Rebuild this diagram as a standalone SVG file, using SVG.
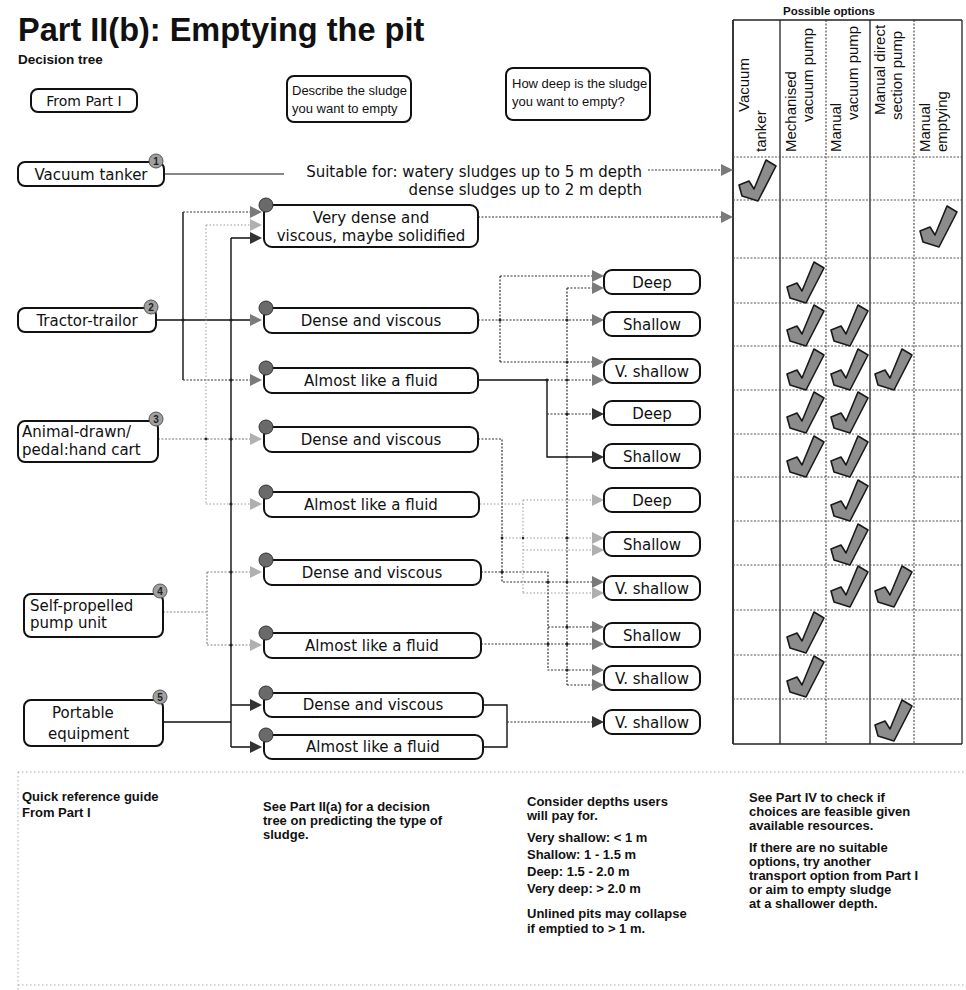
<svg xmlns="http://www.w3.org/2000/svg" xmlns:xlink="http://www.w3.org/1999/xlink" width="966" height="990" viewBox="0 0 966 990">
<style>
text{font-family:"Liberation Sans",Arial,sans-serif;fill:#111}
.title{font-size:32.5px;font-weight:bold}
.hb{font-size:13.5px;font-weight:bold}
.nl{font-family:"DejaVu Sans","Liberation Sans",sans-serif;font-size:15px}
.ql{font-size:13px}
.th{font-size:15px}
.box{fill:#fff;stroke:#111;stroke-width:2}
.pin{fill:#6a6a6a;stroke:#333;stroke-width:1}
.badge{fill:#a0a0a0;stroke:#555;stroke-width:1}
.bn{font-size:10px;font-weight:bold;fill:#222;text-anchor:middle}
.sol{fill:none;stroke:#111;stroke-width:1.4}
.dot{fill:none;stroke:#333;stroke-width:1.2;stroke-dasharray:2 1.5}
.fnt{fill:none;stroke:#999;stroke-width:1;stroke-dasharray:1.5 2}
.dk{fill:#333}
.md{fill:#7a7a7a}
.lt{fill:#b0b0b0}
.chk{fill:#8c8c8c;stroke:#1a1a1a;stroke-width:1.6;stroke-linejoin:round}
.tv{stroke:#222;stroke-width:1.3}
.tvd{stroke:#444;stroke-width:1.1;stroke-dasharray:2 1.5}
.thz{stroke:#555;stroke-width:1;stroke-dasharray:2 1.5}
.jd{fill:#222}
.bt{font-size:13px;font-weight:bold}
.sep{stroke:#aaa;stroke-width:1;stroke-dasharray:1.5 2.5;fill:none}
</style>
<defs>
<path id="ah" d="M-12,-6 L0,0 L-12,6 Z"/>
<path id="ck" d="M-18,5 L-8,1 L-3,9 L9,-20 L19,-14 L1,21 L-15,16 Z"/>
</defs>

<text class="title" x="18" y="41">Part II(b): Emptying the pit</text>
<text class="hb" x="18" y="64">Decision tree</text>

<g id="from-part-i"><rect class="box" x="31" y="89" width="106" height="23" rx="7"/><text class="nl" x="84" y="106" text-anchor="middle" style="font-size:14px">From Part I</text></g>
<g id="describe-sludge"><rect class="box" x="287" y="76" width="124" height="46" rx="7"/><text class="ql" x="292" y="95">Describe the sludge</text><text class="ql" x="292" y="113">you want to empty</text></g>
<g id="how-deep"><rect class="box" x="506" y="68" width="144" height="52" rx="7"/><text class="ql" x="512" y="88">How deep is the sludge</text><text class="ql" x="512" y="106">you want to empty?</text></g>

<text class="hb" x="783" y="15" style="font-size:11.5px">Possible options</text>

<!-- table -->
<g id="options-table">
<g fill="none">
<line class="tv" x1="733" y1="20" x2="733" y2="744" style="stroke-width:1.8"/>
<line class="tv" x1="780" y1="20" x2="780" y2="744"/>
<line class="tvd" x1="826" y1="20" x2="826" y2="744"/>
<line class="tv" x1="870" y1="20" x2="870" y2="744"/>
<line class="tvd" x1="914" y1="20" x2="914" y2="744"/>
<line class="tv" x1="962" y1="20" x2="962" y2="744"/>
<line class="tv" x1="733" y1="20" x2="962" y2="20"/>
<line class="thz" x1="733" y1="157" x2="962" y2="157"/>
<line class="thz" x1="733" y1="200" x2="962" y2="200"/>
<line class="thz" x1="733" y1="258" x2="962" y2="258"/>
<line class="thz" x1="733" y1="303" x2="962" y2="303"/>
<line class="thz" x1="733" y1="346" x2="962" y2="346"/>
<line class="thz" x1="733" y1="390" x2="962" y2="390"/>
<line class="thz" x1="733" y1="434" x2="962" y2="434"/>
<line class="thz" x1="733" y1="477" x2="962" y2="477"/>
<line class="thz" x1="733" y1="521" x2="962" y2="521"/>
<line class="thz" x1="733" y1="565" x2="962" y2="565"/>
<line class="thz" x1="733" y1="610" x2="962" y2="610"/>
<line class="thz" x1="733" y1="655" x2="962" y2="655"/>
<line class="thz" x1="733" y1="699" x2="962" y2="699"/>
<line class="tv" x1="733" y1="744" x2="962" y2="744"/>
</g>
<text class="th" transform="translate(749,112) rotate(-90)">Vacuum</text>
<text class="th" transform="translate(766,152) rotate(-90)">tanker</text>
<text class="th" transform="translate(796,152) rotate(-90)">Mechanised</text>
<text class="th" transform="translate(813,122) rotate(-90)">vacuum pump</text>
<text class="th" transform="translate(841,152) rotate(-90)">Manual</text>
<text class="th" transform="translate(858,120) rotate(-90)">vacuum pump</text>
<text class="th" transform="translate(885,115) rotate(-90)">Manual direct</text>
<text class="th" transform="translate(902,120) rotate(-90)">section pump</text>
<text class="th" transform="translate(930,152) rotate(-90)">Manual</text>
<text class="th" transform="translate(947,152) rotate(-90)">emptying</text>
<g class="chk">
<use xlink:href="#ck" x="757" y="180"/>
<use xlink:href="#ck" x="938" y="226"/>
<use xlink:href="#ck" x="805" y="282"/>
<use xlink:href="#ck" x="805" y="325"/><use xlink:href="#ck" x="849" y="325"/>
<use xlink:href="#ck" x="805" y="369"/><use xlink:href="#ck" x="849" y="369"/><use xlink:href="#ck" x="893" y="369"/>
<use xlink:href="#ck" x="805" y="412"/><use xlink:href="#ck" x="849" y="412"/>
<use xlink:href="#ck" x="805" y="456"/><use xlink:href="#ck" x="849" y="456"/>
<use xlink:href="#ck" x="849" y="500"/>
<use xlink:href="#ck" x="849" y="544"/>
<use xlink:href="#ck" x="849" y="586"/><use xlink:href="#ck" x="893" y="586"/>
<use xlink:href="#ck" x="805" y="632"/>
<use xlink:href="#ck" x="805" y="676"/>
<use xlink:href="#ck" x="893" y="720"/>
</g>
</g>

<!-- connectors -->
<g id="connectors">
<path class="sol" d="M165,174 H284" style="stroke-width:1.2"/>
<path class="dot" d="M648,170 H722"/>
<path class="dot" d="M478,217 H722"/>
<path class="sol" d="M156,320 H251"/>
<path class="sol" d="M183,212 V380"/>
<path class="dot" d="M183,212 H251 M183,380 H251"/>
<path class="dot" d="M158,439 H251" style="stroke:#777"/>
<path class="fnt" d="M206,225 V504 M206,225 H251 M206,504 H251"/>
<path class="dot" d="M163,612 H207 M207,572 V645 M207,572 H251 M207,645 H251" style="stroke:#888"/>
<path class="sol" d="M163,722 H231 M231,238 V747 M231,238 H251 M231,705 H251 M231,747 H251"/>
<path class="dot" d="M478,320 H592 M500,276 V362 M500,276 H592 M500,362 H592"/>
<path class="sol" d="M478,380 H547 V457 H592"/>
<path class="dot" d="M547,380 H592 M547,414 H592"/>
<path class="dot" d="M567,288 V685 M567,288 H592 M567,685 H592"/>
<path class="dot" d="M478,439 H502 V582 H592"/>
<path class="fnt" d="M502,538 H592"/>
<path class="fnt" d="M480,504 H523 M523,500 V593 M523,500 H592 M523,550 H592 M523,593 H592"/>
<path class="dot" d="M481,572 H548 V670 H592 M548,627 H592"/>
<path class="dot" d="M481,644 H592"/>
<path class="sol" d="M483,705 H507 V747 H483"/>
<path class="dot" d="M507,722 H592"/>
<g class="jd">
<circle cx="231" cy="320" r="1.6"/><circle cx="231" cy="380" r="1.6"/><circle cx="231" cy="439" r="1.6"/><circle cx="231" cy="504" r="1.6"/><circle cx="231" cy="572" r="1.6"/><circle cx="231" cy="645" r="1.6"/><circle cx="183" cy="320" r="1.6"/><circle cx="206" cy="439" r="1.4"/>
<circle cx="500" cy="320" r="1.6"/><circle cx="567" cy="320" r="1.6"/><circle cx="567" cy="362" r="1.6"/><circle cx="547" cy="380" r="1.6"/><circle cx="567" cy="380" r="1.6"/><circle cx="567" cy="414" r="1.6"/><circle cx="567" cy="457" r="1.6"/><circle cx="567" cy="538" r="1.6"/><circle cx="567" cy="582" r="1.6"/><circle cx="567" cy="627" r="1.6"/><circle cx="567" cy="644" r="1.6"/><circle cx="567" cy="670" r="1.6"/><circle cx="502" cy="572" r="1.6"/><circle cx="548" cy="582" r="1.6"/><circle cx="548" cy="644" r="1.6"/><circle cx="502" cy="538" r="1.4"/><circle cx="523" cy="538" r="1.2"/>
</g>
<use xlink:href="#ah" x="733" y="170" class="md"/>
<use xlink:href="#ah" x="733" y="217" class="md"/>
<use xlink:href="#ah" x="262" y="212" class="md"/>
<use xlink:href="#ah" x="262" y="225" class="lt"/>
<use xlink:href="#ah" x="262" y="238" class="dk"/>
<use xlink:href="#ah" x="262" y="320" class="md"/>
<use xlink:href="#ah" x="262" y="380" class="md"/>
<use xlink:href="#ah" x="262" y="439" class="lt"/>
<use xlink:href="#ah" x="262" y="504" class="lt"/>
<use xlink:href="#ah" x="262" y="572" class="lt"/>
<use xlink:href="#ah" x="262" y="645" class="lt"/>
<use xlink:href="#ah" x="262" y="705" class="dk"/>
<use xlink:href="#ah" x="262" y="747" class="dk"/>
<use xlink:href="#ah" x="604" y="276" class="md"/>
<use xlink:href="#ah" x="604" y="288" class="md"/>
<use xlink:href="#ah" x="604" y="320" class="md"/>
<use xlink:href="#ah" x="604" y="362" class="md"/>
<use xlink:href="#ah" x="604" y="380" class="md"/>
<use xlink:href="#ah" x="604" y="414" class="dk"/>
<use xlink:href="#ah" x="604" y="457" class="dk"/>
<use xlink:href="#ah" x="604" y="500" class="lt"/>
<use xlink:href="#ah" x="604" y="538" class="lt"/>
<use xlink:href="#ah" x="604" y="550" class="lt"/>
<use xlink:href="#ah" x="604" y="582" class="md"/>
<use xlink:href="#ah" x="604" y="593" class="lt"/>
<use xlink:href="#ah" x="604" y="627" class="md"/>
<use xlink:href="#ah" x="604" y="644" class="md"/>
<use xlink:href="#ah" x="604" y="670" class="md"/>
<use xlink:href="#ah" x="604" y="685" class="md"/>
<use xlink:href="#ah" x="604" y="722" class="dk"/>
</g>

<text class="nl" x="642" y="177" text-anchor="end">Suitable for: watery sludges up to 5 m depth</text>
<text class="nl" x="642" y="195" text-anchor="end">dense sludges up to 2 m depth</text>

<!-- transport nodes -->
<g id="vacuum-tanker"><rect class="box" x="18" y="162" width="146" height="24" rx="7"/><text class="nl" x="91" y="180" text-anchor="middle">Vacuum tanker</text><circle class="badge" cx="156" cy="161" r="7"/><text class="bn" x="156" y="165">1</text></g>
<g id="tractor-trailor"><rect class="box" x="18" y="308" width="138" height="24" rx="7"/><text class="nl" x="87" y="326" text-anchor="middle">Tractor-trailor</text><circle class="badge" cx="151" cy="307" r="7"/><text class="bn" x="151" y="311">2</text></g>
<g id="animal-drawn"><rect class="box" x="18" y="421" width="140" height="41" rx="7"/><text class="nl" x="22" y="437">Animal-drawn/</text><text class="nl" x="22" y="455">pedal:hand cart</text><circle class="badge" cx="156" cy="419" r="7"/><text class="bn" x="156" y="423">3</text></g>
<g id="self-propelled"><rect class="box" x="24" y="594" width="139" height="43" rx="7"/><text class="nl" x="30" y="611">Self-propelled</text><text class="nl" x="30" y="628">pump unit</text><circle class="badge" cx="160" cy="591" r="7"/><text class="bn" x="160" y="595">4</text></g>
<g id="portable"><rect class="box" x="24" y="700" width="139" height="46" rx="7"/><text class="nl" x="52" y="718">Portable</text><text class="nl" x="48" y="739">equipment</text><circle class="badge" cx="160" cy="697" r="7"/><text class="bn" x="160" y="701">5</text></g>

<!-- sludge nodes -->
<g id="s-very-dense"><rect class="box" x="264" y="205" width="214" height="42" rx="8"/><circle class="pin" cx="266" cy="205" r="7"/><text class="nl" x="371" y="223" text-anchor="middle">Very dense and</text><text class="nl" x="371" y="241" text-anchor="middle">viscous, maybe solidified</text></g>
<g id="s-dense-tractor"><rect class="box" x="264" y="308" width="214" height="25" rx="8"/><circle class="pin" cx="266" cy="308" r="7"/><text class="nl" x="371" y="326" text-anchor="middle">Dense and viscous</text></g>
<g id="s-fluid-tractor"><rect class="box" x="264" y="368" width="214" height="25" rx="8"/><circle class="pin" cx="266" cy="368" r="7"/><text class="nl" x="371" y="386" text-anchor="middle">Almost like a fluid</text></g>
<g id="s-dense-cart"><rect class="box" x="264" y="427" width="214" height="25" rx="8"/><circle class="pin" cx="266" cy="427" r="7"/><text class="nl" x="371" y="445" text-anchor="middle">Dense and viscous</text></g>
<g id="s-fluid-cart"><rect class="box" x="264" y="492" width="215" height="25" rx="8"/><circle class="pin" cx="266" cy="492" r="7"/><text class="nl" x="371" y="510" text-anchor="middle">Almost like a fluid</text></g>
<g id="s-dense-self"><rect class="box" x="264" y="560" width="217" height="25" rx="8"/><circle class="pin" cx="266" cy="560" r="7"/><text class="nl" x="372" y="578" text-anchor="middle">Dense and viscous</text></g>
<g id="s-fluid-self"><rect class="box" x="264" y="633" width="217" height="25" rx="8"/><circle class="pin" cx="266" cy="633" r="7"/><text class="nl" x="372" y="651" text-anchor="middle">Almost like a fluid</text></g>
<g id="s-dense-portable"><rect class="box" x="264" y="693" width="219" height="24" rx="8"/><circle class="pin" cx="266" cy="693" r="7"/><text class="nl" x="373" y="710" text-anchor="middle">Dense and viscous</text></g>
<g id="s-fluid-portable"><rect class="box" x="264" y="735" width="219" height="24" rx="8"/><circle class="pin" cx="266" cy="735" r="7"/><text class="nl" x="373" y="752" text-anchor="middle">Almost like a fluid</text></g>

<!-- depth nodes -->
<g id="d-deep-1"><rect class="box" x="604" y="270" width="96" height="24" rx="8"/><text class="nl" x="652" y="288" text-anchor="middle">Deep</text></g>
<g id="d-shallow-1"><rect class="box" x="604" y="312" width="96" height="24" rx="8"/><text class="nl" x="652" y="330" text-anchor="middle">Shallow</text></g>
<g id="d-vshallow-1"><rect class="box" x="604" y="359" width="96" height="24" rx="8"/><text class="nl" x="652" y="377" text-anchor="middle">V. shallow</text></g>
<g id="d-deep-2"><rect class="box" x="604" y="401" width="96" height="24" rx="8"/><text class="nl" x="652" y="419" text-anchor="middle">Deep</text></g>
<g id="d-shallow-2"><rect class="box" x="604" y="444" width="96" height="24" rx="8"/><text class="nl" x="652" y="462" text-anchor="middle">Shallow</text></g>
<g id="d-deep-3"><rect class="box" x="604" y="488" width="96" height="24" rx="8"/><text class="nl" x="652" y="506" text-anchor="middle">Deep</text></g>
<g id="d-shallow-3"><rect class="box" x="604" y="532" width="96" height="24" rx="8"/><text class="nl" x="652" y="550" text-anchor="middle">Shallow</text></g>
<g id="d-vshallow-3"><rect class="box" x="604" y="576" width="96" height="24" rx="8"/><text class="nl" x="652" y="594" text-anchor="middle">V. shallow</text></g>
<g id="d-shallow-4"><rect class="box" x="604" y="623" width="96" height="24" rx="8"/><text class="nl" x="652" y="641" text-anchor="middle">Shallow</text></g>
<g id="d-vshallow-4"><rect class="box" x="604" y="666" width="96" height="24" rx="8"/><text class="nl" x="652" y="684" text-anchor="middle">V. shallow</text></g>
<g id="d-vshallow-5"><rect class="box" x="604" y="710" width="96" height="24" rx="8"/><text class="nl" x="652" y="728" text-anchor="middle">V. shallow</text></g>

<!-- quick reference guide -->
<path class="sep" d="M18,772 H966 M18,772 V990 M18,985 H966"/>
<text class="bt" x="22" y="801">Quick reference guide</text>
<text class="bt" x="22" y="817">From Part I</text>
<text class="bt" x="263" y="811">See Part II(a) for a decision</text>
<text class="bt" x="263" y="825">tree on predicting the type of</text>
<text class="bt" x="263" y="839">sludge.</text>
<text class="bt" x="527" y="806">Consider depths users</text>
<text class="bt" x="527" y="820">will pay for.</text>
<text class="bt" x="527" y="842">Very shallow: &lt; 1 m</text>
<text class="bt" x="527" y="859">Shallow: 1 - 1.5 m</text>
<text class="bt" x="527" y="876">Deep: 1.5 - 2.0 m</text>
<text class="bt" x="527" y="893">Very deep: &gt; 2.0 m</text>
<text class="bt" x="527" y="918">Unlined pits may collapse</text>
<text class="bt" x="527" y="933">if emptied to &gt; 1 m.</text>
<text class="bt" x="749" y="802">See Part IV to check if</text>
<text class="bt" x="749" y="816">choices are feasible given</text>
<text class="bt" x="749" y="830">available resources.</text>
<text class="bt" x="749" y="852">If there are no suitable</text>
<text class="bt" x="749" y="866">options, try another</text>
<text class="bt" x="749" y="880">transport option from Part I</text>
<text class="bt" x="749" y="894">or aim to empty sludge</text>
<text class="bt" x="749" y="908">at a shallower depth.</text>
</svg>
